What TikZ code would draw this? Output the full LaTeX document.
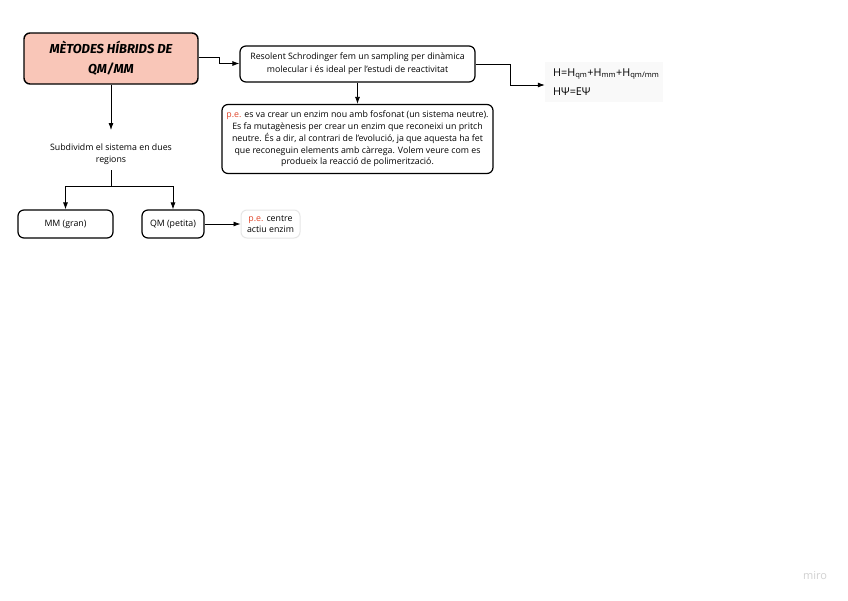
\documentclass[tikz,border=0pt]{standalone}
\usepackage{fontspec}
\setmainfont{Open Sans}
\newfontfamily\titlefont{Fira Sans}
\usetikzlibrary{arrows.meta}
\definecolor{titlefill}{HTML}{F9C6B8}
\definecolor{pered}{HTML}{E0452A}
\definecolor{lightbox}{HTML}{E6E6E6}
\definecolor{formbg}{HTML}{F9F9F9}
\tikzset{
  box/.style={draw=black, line width=1.2pt, rounded corners=6pt, fill=white, align=center, font=\fontsize{8.8}{13}\selectfont, inner sep=0pt},
  titlebox/.style={box, fill=titlefill, line width=1.4pt, font=\titlefont\bfseries\itshape\fontsize{13}{20}\selectfont},
  plain/.style={align=center, font=\fontsize{8.8}{12.5}\selectfont, inner sep=0pt},
  conn/.style={draw=black, line width=0.8pt, -{Latex[length=7pt,width=5pt]}},
  line/.style={draw=black, line width=0.8pt}
}
\begin{document}
\begin{tikzpicture}[x=1pt,y=-1pt]
\useasboundingbox (0,0) rectangle (848,600);
\fill[white] (0,0) rectangle (848,600);
% title
\node[titlebox, minimum width=174pt, minimum height=51pt] (title) at (111,58.5) {MÈTODES HÍBRIDS DE\\QM/MM};
% resolent
\node[box, minimum width=235pt, minimum height=36pt] (res) at (357.5,64) {Resolent Schrodinger fem un sampling per dinàmica\\molecular i és ideal per l'estudi de reactivitat};
% formula
\node[fill=formbg, minimum width=118pt, minimum height=40pt, inner sep=0pt] (form) at (604,82) {};
\node[anchor=west, inner sep=0pt, font=\fontsize{10.8}{12}\selectfont] (f1) at (553,74) {H=H\textsubscript{qm}+H\textsubscript{mm}+H\textsubscript{qm/mm}};
\node[anchor=west, inner sep=0pt, font=\fontsize{10.8}{12}\selectfont] (f2) at (553,92) {HΨ=EΨ};
% example box
\node[box, minimum width=271pt, minimum height=69pt, font=\fontsize{8.8}{11.8}\selectfont] (pe) at (357.5,139) {\textcolor{pered}{p.e.} es va crear un enzim nou amb fosfonat (un sistema neutre).\\Es fa mutagènesis per crear un enzim que reconeixi un pritch\\neutre. És a dir, al contrari de l'evolució, ja que aquesta ha fet\\que reconeguin elements amb càrrega. Volem veure com es\\produeix la reacció de polimerització.};
% subdivide
\node[plain] (sub) at (111,154) {Subdividm el sistema en dues\\regions};
\node[box, minimum width=95pt, minimum height=28pt] (mm) at (65.5,224) {MM (gran)};
\node[box, minimum width=62pt, minimum height=28pt] (qm) at (173,224) {QM (petita)};
\node[box, draw=lightbox, line width=1pt, minimum width=59pt, minimum height=28pt, font=\fontsize{8.8}{11.5}\selectfont] (cen) at (270.5,224) {\textcolor{pered}{p.e.} centre\\actiu enzim};
\node[font=\fontsize{11}{12}\selectfont, text=black!18, inner sep=0pt] (miro) at (815,576) {miro};
% connectors
\draw[conn] (title.east |- 0,57.5) -| (219,63.5) -- (res.west |- 0,63.5);
\draw[conn] (res.east) -| (510,85) -- (form.west |- 0,85);
\draw[conn] (res.south) -- (pe.north);
\draw[conn] (title.south) -- (111,130);
\draw[line] (111,170) -- (111,186);
\draw[conn] (111,186) -| (mm.north);
\draw[conn] (111,186) -| (qm.north);
\draw[conn] (qm.east) -- (cen.west);
\end{tikzpicture}
\end{document}
